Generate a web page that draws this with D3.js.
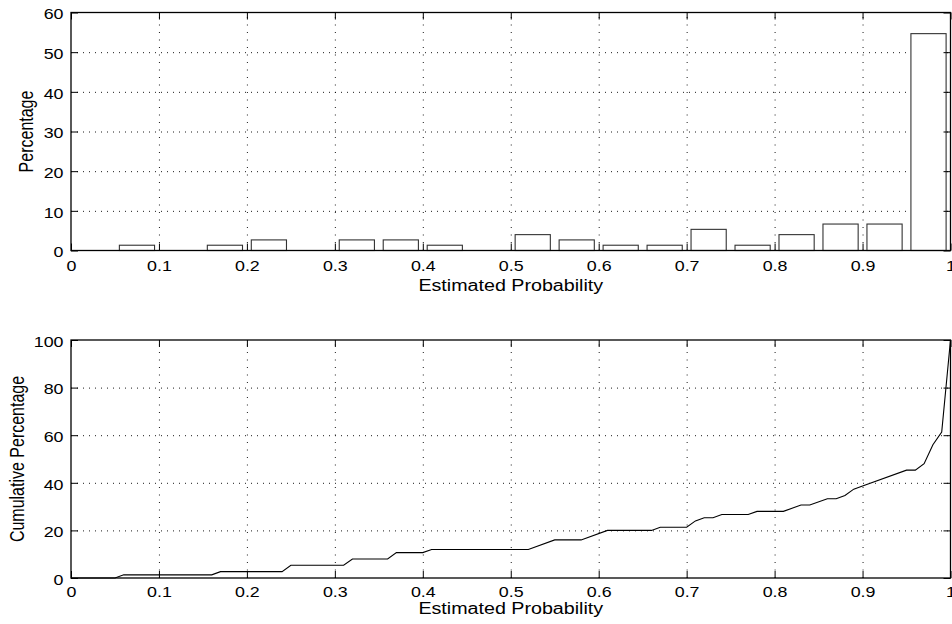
<!DOCTYPE html>
<html>
<head>
<meta charset="utf-8">
<script src="https://cdn.jsdelivr.net/npm/d3@7/dist/d3.min.js"></script>
<style>
  html, body { margin: 0; padding: 0; background: #fff; }
  svg { display: block; }
  text { font-family: "Liberation Sans", Arial, Helvetica, sans-serif; fill: #000; }
</style>
</head>
<body>
<svg id="chart" width="952" height="624"></svg>
<script>
// ---- data ----
const xTickValues = [0, 0.1, 0.2, 0.3, 0.4, 0.5, 0.6, 0.7, 0.8, 0.9, 1];
const xTickLabels = ["0", "0.1", "0.2", "0.3", "0.4", "0.5", "0.6", "0.7", "0.8", "0.9", "1"];

// histogram: 20 bins of width 0.05, centres and percentage per bin
const binCenters = [0.025, 0.075, 0.125, 0.175, 0.225, 0.275, 0.325, 0.375, 0.425, 0.475,
                    0.525, 0.575, 0.625, 0.675, 0.725, 0.775, 0.825, 0.875, 0.925, 0.975];
const binPercent = [0, 1.33, 0, 1.33, 2.67, 0, 2.67, 2.67, 1.33, 0,
                    4, 2.67, 1.33, 1.33, 5.33, 1.33, 4, 6.67, 6.67, 54.67];
const histYTicks = [0, 10, 20, 30, 40, 50, 60];

// cumulative percentage curve (break points)
const cumProb = [0, 0.05, 0.06, 0.16, 0.17, 0.24, 0.25, 0.31, 0.32, 0.36, 0.37, 0.40, 0.41,
                 0.52, 0.55, 0.58, 0.61, 0.66, 0.67, 0.70, 0.71, 0.72, 0.73, 0.74, 0.77,
                 0.78, 0.81, 0.83, 0.84, 0.86, 0.87, 0.88, 0.89, 0.90, 0.95, 0.96, 0.97,
                 0.98, 0.99, 1.00];
const cumPercent = [0, 0, 1.33, 1.33, 2.67, 2.67, 5.33, 5.33, 8, 8, 10.67, 10.67, 12,
                    12, 16, 16, 20, 20, 21.33, 21.33, 24, 25.33, 25.33, 26.67, 26.67,
                    28, 28, 30.67, 30.67, 33.33, 33.33, 34.67, 37.33, 38.67, 45.33, 45.33, 48,
                    56, 61.33, 100];
const cumYTicks = [0, 20, 40, 60, 80, 100];

const xLabel = "Estimated Probability";
const histYLabel = "Percentage";
const cumYLabel = "Cumulative Percentage";

// ---- layout ----
const SX = 1.23;          // horizontal stretch of the lettering
const TICK_FONT = 14.5;
const LABEL_FONT = 16;
const TICK_LEN = 7;
const left = 71, right = 950.5;

const svg = d3.select("#chart");

function styleTickText(sel, dx, dy, anchor) {
  sel.selectAll("text")
    .attr("x", null).attr("y", null).attr("dy", null)
    .attr("text-anchor", anchor)
    .style("font-size", TICK_FONT + "px")
    .attr("transform", `translate(${dx},${dy}) scale(${SX},1)`);
}

function drawPanel(top, bottom, yMax, yTicks, yLabel, yLabelX, xTickDy, xLabelY, drawMarks) {
  const x = d3.scaleLinear().domain([0, 1]).range([left, right]);
  const y = d3.scaleLinear().domain([0, yMax]).range([bottom, top]);
  const g = svg.append("g");

  // dotted grid
  const grid = g.append("g").attr("class", "grid");
  grid.append("g").attr("transform", `translate(0,${bottom})`)
    .call(d3.axisBottom(x).tickValues(xTickValues.slice(1, -1)).tickSize(-(bottom - top)).tickFormat(""))
    .call(s => s.select(".domain").remove())
    .selectAll("line").attr("stroke", "#000").attr("stroke-width", 0.9).attr("stroke-dasharray", "1,6.5");
  grid.append("g").attr("transform", `translate(${left},0)`)
    .call(d3.axisLeft(y).tickValues(yTicks.slice(1, -1)).tickSize(-(right - left)).tickFormat(""))
    .call(s => s.select(".domain").remove())
    .selectAll("line").attr("stroke", "#000").attr("stroke-width", 0.9).attr("stroke-dasharray", "1,5");

  drawMarks(g, x, y);

  // axes with inward ticks on all four sides
  const ax = g.append("g");
  ax.append("g").attr("transform", `translate(0,${bottom})`)
    .call(d3.axisBottom(x).tickValues(xTickValues).tickFormat((d, i) => xTickLabels[i]).tickSize(-TICK_LEN))
    .call(s => s.select(".domain").remove())
    .call(s => styleTickText(s, 0, xTickDy, "middle"));
  ax.append("g").attr("transform", `translate(0,${top})`)
    .call(d3.axisTop(x).tickValues(xTickValues).tickFormat("").tickSize(-TICK_LEN))
    .call(s => s.select(".domain").remove());
  ax.append("g").attr("transform", `translate(${left},0)`)
    .call(d3.axisLeft(y).tickValues(yTicks).tickSize(-TICK_LEN))
    .call(s => s.select(".domain").remove())
    .call(s => styleTickText(s, -7.5, 6.2, "end"));
  ax.append("g").attr("transform", `translate(${right},0)`)
    .call(d3.axisRight(y).tickValues(yTicks).tickFormat("").tickSize(-TICK_LEN))
    .call(s => s.select(".domain").remove());
  ax.selectAll(".tick line").attr("stroke", "#000").attr("stroke-width", 1);

  // frame
  g.append("rect")
    .attr("x", left).attr("y", top)
    .attr("width", right - left).attr("height", bottom - top)
    .attr("fill", "none").attr("stroke", "#000").attr("stroke-width", 1.3);

  // axis titles
  g.append("text")
    .attr("text-anchor", "middle")
    .style("font-size", LABEL_FONT + "px")
    .attr("transform", `translate(${(left + right) / 2},${xLabelY}) scale(${SX},1)`)
    .text(xLabel);
  g.append("text")
    .attr("text-anchor", "middle")
    .style("font-size", LABEL_FONT + "px")
    .attr("transform", `translate(${yLabelX},${(top + bottom) / 2}) scale(${SX},1) rotate(-90)`)
    .text(yLabel);
}

// histogram panel
drawPanel(12.5, 250.5, 60, histYTicks, histYLabel, 33.3, 20.5, 291, (g, x, y) => {
  const barW = (x(0.05) - x(0)) * 0.8;
  g.append("g").selectAll("rect")
    .data(binCenters.map((c, i) => ({ c, v: binPercent[i] })))
    .join("rect")
    .attr("x", d => x(d.c) - barW / 2)
    .attr("y", d => y(d.v))
    .attr("width", barW)
    .attr("height", d => y(0) - y(d.v))
    .attr("fill", "#fff")
    .attr("stroke", "#333")
    .attr("stroke-width", 1.1);
});

// cumulative panel
drawPanel(340, 578, 100, cumYTicks, cumYLabel, 24.3, 18.8, 613.5, (g, x, y) => {
  const line = d3.line().x(d => x(d[0])).y(d => y(d[1]));
  g.append("path")
    .datum(cumProb.map((p, i) => [p, cumPercent[i]]))
    .attr("d", line)
    .attr("fill", "none")
    .attr("stroke", "#000")
    .attr("stroke-width", 1.1);
});
</script>
</body>
</html>
